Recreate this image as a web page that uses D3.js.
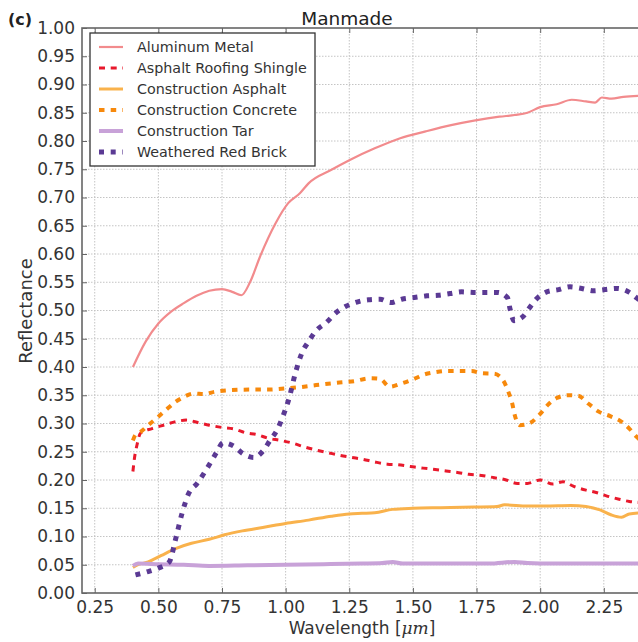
<!DOCTYPE html>
<html><head><meta charset="utf-8">
<script src="https://cdn.jsdelivr.net/npm/d3@7"></script>
<style>html,body{margin:0;padding:0;background:#fff;}svg{display:block;}</style>
</head><body>
<svg id="chart" width="638" height="642"></svg>
<script>
// ---- data ----
const seriesNames = ["Aluminum Metal","Asphalt Roofing Shingle","Construction Asphalt","Construction Concrete","Construction Tar","Weathered Red Brick"];
const xTicks = [0.25,0.50,0.75,1.00,1.25,1.50,1.75,2.00,2.25];
const yTicks = [0.00,0.05,0.10,0.15,0.20,0.25,0.30,0.35,0.40,0.45,0.50,0.55,0.60,0.65,0.70,0.75,0.80,0.85,0.90,0.95,1.00];

const aluminumWl = [0.40,0.45,0.50,0.55,0.60,0.65,0.70,0.75,0.79,0.826,0.86,0.90,0.96,1.01,1.057,1.09,1.18,1.25,1.35,1.45,1.55,1.65,1.74,1.84,1.90,1.95,2.00,2.065,2.124,2.18,2.216,2.242,2.28,2.327,2.40];
const aluminumRef = [0.400,0.445,0.477,0.498,0.513,0.526,0.535,0.538,0.533,0.527,0.550,0.596,0.654,0.690,0.708,0.725,0.749,0.766,0.787,0.805,0.817,0.828,0.836,0.843,0.846,0.850,0.860,0.865,0.873,0.870,0.868,0.877,0.875,0.878,0.880];

const shingleWl = [0.40,0.405,0.416,0.43,0.475,0.52,0.567,0.61,0.66,0.70,0.75,0.80,0.84,0.89,0.93,0.98,1.03,1.07,1.12,1.17,1.21,1.26,1.30,1.35,1.40,1.44,1.49,1.54,1.58,1.63,1.68,1.72,1.77,1.82,1.86,1.91,1.95,2.00,2.05,2.09,2.13,2.18,2.22,2.26,2.31,2.35,2.40];
const shingleRef = [0.215,0.235,0.262,0.283,0.291,0.297,0.303,0.306,0.301,0.297,0.293,0.290,0.284,0.280,0.274,0.270,0.265,0.259,0.253,0.248,0.244,0.240,0.237,0.232,0.228,0.227,0.224,0.221,0.219,0.216,0.213,0.210,0.208,0.204,0.201,0.194,0.194,0.200,0.193,0.197,0.189,0.182,0.178,0.172,0.166,0.162,0.160];

const asphaltWl = [0.40,0.42,0.46,0.51,0.57,0.63,0.70,0.76,0.83,0.91,1.00,1.09,1.18,1.25,1.30,1.35,1.42,1.50,1.61,1.74,1.83,1.86,1.95,2.02,2.12,2.18,2.235,2.28,2.32,2.35,2.40];
const asphaltRef = [0.045,0.050,0.055,0.066,0.079,0.088,0.095,0.103,0.110,0.116,0.123,0.129,0.136,0.140,0.141,0.142,0.148,0.150,0.151,0.152,0.153,0.156,0.154,0.154,0.155,0.153,0.147,0.138,0.134,0.140,0.142];

const concreteWl = [0.40,0.41,0.43,0.46,0.50,0.53,0.57,0.60,0.64,0.68,0.72,0.78,0.86,0.93,1.00,1.05,1.12,1.20,1.27,1.33,1.37,1.41,1.45,1.50,1.54,1.59,1.63,1.68,1.73,1.77,1.82,1.855,1.875,1.89,1.90,1.92,1.96,2.00,2.03,2.065,2.11,2.15,2.19,2.23,2.275,2.32,2.35,2.38,2.40];
const concreteRef = [0.270,0.280,0.285,0.297,0.312,0.324,0.339,0.347,0.353,0.352,0.356,0.359,0.360,0.360,0.362,0.364,0.368,0.372,0.375,0.380,0.379,0.365,0.370,0.378,0.386,0.391,0.393,0.393,0.393,0.389,0.388,0.376,0.356,0.336,0.315,0.297,0.301,0.317,0.333,0.345,0.350,0.349,0.335,0.321,0.313,0.303,0.291,0.276,0.268];

const tarWl = [0.40,0.42,0.50,0.60,0.70,0.85,1.00,1.15,1.30,1.38,1.42,1.46,1.60,1.80,1.90,1.95,2.05,2.20,2.40];
const tarRef = [0.048,0.052,0.051,0.050,0.048,0.049,0.050,0.051,0.052,0.053,0.055,0.052,0.052,0.052,0.055,0.053,0.052,0.052,0.052];

const brickWl = [0.41,0.46,0.50,0.543,0.567,0.593,0.619,0.652,0.704,0.73,0.754,0.796,0.835,0.875,0.914,0.94,0.966,0.986,1.015,1.038,1.064,1.09,1.117,1.163,1.195,1.235,1.28,1.325,1.371,1.413,1.456,1.505,1.555,1.60,1.646,1.692,1.737,1.786,1.832,1.871,1.882,1.897,1.932,1.96,1.989,2.026,2.072,2.117,2.163,2.209,2.255,2.30,2.347,2.38,2.40];
const brickRef = [0.032,0.038,0.044,0.055,0.094,0.141,0.176,0.194,0.230,0.250,0.266,0.260,0.246,0.240,0.253,0.271,0.288,0.309,0.347,0.389,0.425,0.445,0.463,0.480,0.495,0.507,0.515,0.519,0.520,0.514,0.520,0.523,0.526,0.527,0.530,0.533,0.532,0.532,0.532,0.523,0.502,0.482,0.489,0.506,0.522,0.533,0.537,0.542,0.539,0.535,0.537,0.539,0.533,0.522,0.515];

// ---- styles ----
const styles = [
  {color:"#f28b8d", width:2.2, dash:null},
  {color:"#e8192c", width:3, dash:"6,5.7"},
  {color:"#f9b24c", width:3, dash:null},
  {color:"#f7890c", width:4, dash:"5.5,6.2"},
  {color:"#c8a2d8", width:4, dash:null},
  {color:"#5b3a94", width:5, dash:"5,6.7"}
];
const seriesData = [
  [aluminumWl, aluminumRef],[shingleWl, shingleRef],[asphaltWl, asphaltRef],
  [concreteWl, concreteRef],[tarWl, tarRef],[brickWl, brickRef]
];

const svg = d3.select("#chart");
const L=82, T=28, R=642, B=593;
const x = d3.scaleLinear().domain([0.2,2.4]).range([L,R]);
const y = d3.scaleLinear().domain([0,1]).range([B,T]);
const font = "'DejaVu Sans', sans-serif";
const txt = "#333";

svg.append("defs").append("clipPath").attr("id","clip")
  .append("rect").attr("x",L).attr("y",T).attr("width",R-L).attr("height",B-T);

// grid
const grid = svg.append("g");
grid.selectAll("line.vx").data(xTicks).join("line")
  .attr("x1",d=>x(d)).attr("x2",d=>x(d)).attr("y1",T).attr("y2",B)
  .attr("stroke","#c4c4c4").attr("stroke-width",1).attr("stroke-dasharray","1.5,1.5");
grid.selectAll("line.hy").data(yTicks.slice(1,-1)).join("line")
  .attr("x1",L).attr("x2",R).attr("y1",d=>y(d)).attr("y2",d=>y(d))
  .attr("stroke","#c4c4c4").attr("stroke-width",1).attr("stroke-dasharray","1.5,1.5");

// lines
const gLines = svg.append("g").attr("clip-path","url(#clip)");
seriesData.forEach((s,i)=>{
  const pts = s[0].map((w,j)=>[w,s[1][j]]);
  const line = d3.line().x(d=>x(d[0])).y(d=>y(d[1])).curve(d3.curveMonotoneX);
  const p = gLines.append("path").datum(pts).attr("d",line)
    .attr("fill","none").attr("stroke",styles[i].color)
    .attr("stroke-width",styles[i].width).attr("stroke-linejoin","round");
  if(styles[i].dash) p.attr("stroke-dasharray",styles[i].dash);
});

// axes
const axB = d3.axisBottom(x).tickValues(xTicks).tickFormat(d3.format(".2f")).tickSizeInner(-5).tickSizeOuter(0).tickPadding(8);
const axL = d3.axisLeft(y).tickValues(yTicks).tickFormat(d3.format(".2f")).tickSizeInner(-5).tickSizeOuter(0).tickPadding(7);
const axT = d3.axisTop(x).tickValues(xTicks).tickFormat("").tickSizeInner(-5).tickSizeOuter(0);
const gb = svg.append("g").attr("transform",`translate(0,${B})`).call(axB);
const gl = svg.append("g").attr("transform",`translate(${L},0)`).call(axL);
const gt = svg.append("g").attr("transform",`translate(0,${T})`).call(axT);
[gb,gl,gt].forEach(g=>{
  g.select(".domain").remove();
  g.selectAll(".tick line").attr("stroke","#666").attr("stroke-width",1);
  g.selectAll(".tick text").attr("fill",txt).style("font-family",font).style("font-size","17px");
});
// spines
svg.append("rect").attr("x",L).attr("y",T).attr("width",R-L).attr("height",B-T)
  .attr("fill","none").attr("stroke","#666").attr("stroke-width",1.6);

// title & labels
svg.append("text").attr("x",347).attr("y",25).attr("text-anchor","middle")
  .attr("fill","#222").style("font-family",font).style("font-size","18.5px").text("Manmade");
svg.append("text").attr("x",8).attr("y",25).attr("fill","#222")
  .style("font-family",font).style("font-size","16px").style("font-weight","bold").text("(c)");
svg.append("text").attr("transform","translate(32,311) rotate(-90)").attr("text-anchor","middle")
  .attr("fill",txt).style("font-family",font).style("font-size","18px").text("Reflectance");
const xl = svg.append("text").attr("x",362).attr("y",634).attr("text-anchor","middle")
  .attr("fill",txt).style("font-family",font).style("font-size","17px");
xl.append("tspan").text("Wavelength [");
xl.append("tspan").style("font-style","italic").style("font-family","'DejaVu Serif', serif").text("μm");
xl.append("tspan").text("]");

// legend
const lg = svg.append("g");
lg.append("rect").attr("x",90).attr("y",33).attr("width",225).attr("height",133)
  .attr("fill","#fff").attr("stroke","#333").attr("stroke-width",1.3);
seriesNames.forEach((n,i)=>{
  const yy = 47 + i*21;
  const l = lg.append("line").attr("x1",99).attr("x2",123).attr("y1",yy).attr("y2",yy)
    .attr("stroke",styles[i].color).attr("stroke-width",styles[i].width);
  if(styles[i].dash) l.attr("stroke-dasharray",styles[i].dash);
  lg.append("text").attr("x",137).attr("y",yy).attr("dy","0.36em").attr("fill",txt)
    .style("font-family",font).style("font-size","14.3px").text(n);
});
</script>
</body></html>
